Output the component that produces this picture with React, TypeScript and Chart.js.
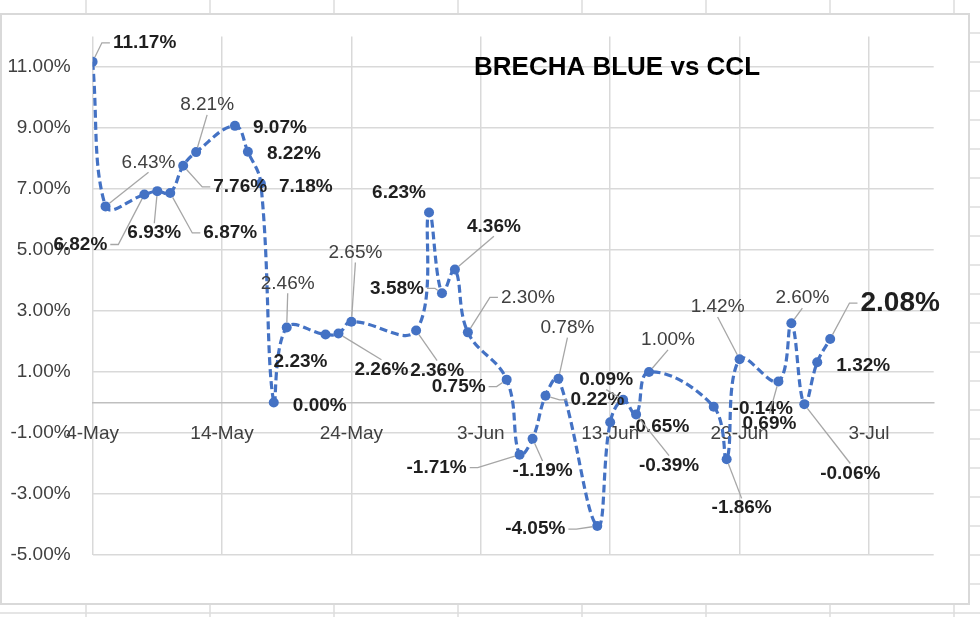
import React, { useEffect, useRef } from "react";
import { Chart, registerables } from "chart.js";

Chart.register(...registerables);

// ---------------- data ----------------
const TITLE = "BRECHA BLUE vs CCL";

const DATES = [
  "2023-05-04", "2023-05-05", "2023-05-08", "2023-05-09", "2023-05-10", "2023-05-11",
  "2023-05-12", "2023-05-15", "2023-05-16", "2023-05-17", "2023-05-18", "2023-05-19",
  "2023-05-22", "2023-05-23", "2023-05-24", "2023-05-29", "2023-05-30", "2023-05-31",
  "2023-06-01", "2023-06-02", "2023-06-05", "2023-06-06", "2023-06-07", "2023-06-08",
  "2023-06-09", "2023-06-12", "2023-06-13", "2023-06-14", "2023-06-15", "2023-06-16",
  "2023-06-21", "2023-06-22", "2023-06-23", "2023-06-26", "2023-06-27", "2023-06-28",
  "2023-06-29", "2023-06-30",
];

const BRECHA = [
  11.17, 6.43, 6.82, 6.93, 6.87, 7.76,
  8.21, 9.07, 8.22, 7.18, 0.0, 2.46,
  2.23, 2.26, 2.65, 2.36, 6.23, 3.58,
  4.36, 2.3, 0.75, -1.71, -1.19, 0.22,
  0.78, -4.05, -0.65, 0.09, -0.39, 1.0,
  -0.14, -1.86, 1.42, 0.69, 2.6, -0.06,
  1.32, 2.08,
];

const X_TICK_DATES = ["2023-05-04", "2023-05-14", "2023-05-24", "2023-06-03", "2023-06-13", "2023-06-23", "2023-07-03"];
const X_AXIS_START = "2023-05-04";
const X_AXIS_END = "2023-07-08";
const Y_TICK_VALUES = [-5, -3, -1, 1, 3, 5, 7, 9, 11];
const Y_MIN = -5;
const Y_MAX = 12;
const MONTHS = ["Jan", "Feb", "Mar", "Apr", "May", "Jun", "Jul", "Aug", "Sep", "Oct", "Nov", "Dec"];

// ---------------- label layout (pixel offsets from each point, leader anchor, weight) ----------------
const LABEL_DX = [52, 43, -64, -3, 60, 57, 11, 45, 46, 45, 46, 1, -25, 43, 4, 21, -30, -45, 39, 60, -48, -83, 10, 52, 9, -62, 49, -17, 33, 19, 49, 15, -22, -9, 11, 46, 46, 70];
const LABEL_DY = [-19, -44, 50, 42, 40, 21, -47, 2, 2, 3, 3, -44, 27, 36, -69, 40, -20, -5, -43, -35, 7, 13, 32, 4, -51, 3, 4, -20, 51, -32, 2, 49, -52, 42, -25, 69, 4, -36];
const LABEL_ANCHOR = ["l", "b", "r", "t", "l", "l", "b", "-", "-", "-", "-", "b", "-", "t", "b", "t", "-", "r", "b", "l", "r", "r", "t", "l", "b", "r", "-", "b", "t", "b", "-", "t", "b", "t", "b", "t", "-", "l"];
const LABEL_BOLD = [1, 0, 1, 1, 1, 1, 0, 1, 1, 1, 1, 0, 1, 1, 0, 1, 1, 1, 1, 0, 1, 1, 1, 1, 0, 1, 1, 1, 1, 0, 1, 1, 0, 1, 0, 1, 1, 1];

const FONT = '"Liberation Sans", Arial, sans-serif';
const BLUE = "#4472C4";
const DAY = 86400000;

const toDay = (iso: string) => (Date.parse(iso + "T00:00:00Z") - Date.parse(X_AXIS_START + "T00:00:00Z")) / DAY;
const fmtDay = (d: number) => {
  const dt = new Date(Date.parse(X_AXIS_START + "T00:00:00Z") + d * DAY);
  return `${dt.getUTCDate()}-${MONTHS[dt.getUTCMonth()]}`;
};

const sheetPlugin = {
  id: "sheet",
  beforeDraw(chart: any) {
    const { ctx, width, height } = chart;
    ctx.save();
    ctx.fillStyle = "#ffffff";
    ctx.fillRect(0, 0, width, height);
    ctx.strokeStyle = "#dcdcdc";
    ctx.lineWidth = 1.5;
    for (let x = 86; x < width; x += 124) {
      ctx.beginPath();
      ctx.moveTo(x, 0);
      ctx.lineTo(x, height);
      ctx.stroke();
    }
    for (let y = 33; y < height; y += 29) {
      ctx.beginPath();
      ctx.moveTo(0, y);
      ctx.lineTo(width, y);
      ctx.stroke();
    }
    ctx.fillStyle = "#ffffff";
    ctx.fillRect(1, 14, 968, 590);
    ctx.strokeStyle = "#d9d9d9";
    ctx.lineWidth = 2;
    ctx.strokeRect(1, 14, 968, 590);
    ctx.restore();
  },
};

const labelPlugin = {
  id: "pointLabels",
  afterDatasetsDraw(chart: any) {
    const ctx = chart.ctx;
    const meta = chart.getDatasetMeta(0);
    ctx.save();
    // title
    ctx.font = `bold 26px ${FONT}`;
    ctx.fillStyle = "#000000";
    ctx.textAlign = "center";
    ctx.textBaseline = "middle";
    ctx.fillText(TITLE, 617, 68);

    meta.data.forEach((pt: any, i: number) => {
      const v = BRECHA[i];
      const text = v.toFixed(2) + "%";
      const big = i === BRECHA.length - 1;
      const bold = LABEL_BOLD[i] === 1;
      const size = big ? 28 : 19;
      ctx.font = `${bold ? "bold " : ""}${size}px ${FONT}`;
      const w = ctx.measureText(text).width;
      const cx = pt.x + LABEL_DX[i];
      const cy = pt.y + LABEL_DY[i];
      const halfW = w / 2 + 3;
      const halfH = size * 0.36 + 3;
      const a = LABEL_ANCHOR[i];
      let path: number[][] = [];
      if (a === "l") path = [[cx - halfW - 8, cy], [cx - halfW, cy]];
      else if (a === "r") path = [[cx + halfW + 8, cy], [cx + halfW, cy]];
      else if (a === "t") path = [[cx, cy - halfH]];
      else if (a === "b") path = [[cx, cy + halfH]];
      if (path.length) {
        const [fx, fy] = path[0];
        const dist = Math.hypot(fx - pt.x, fy - pt.y) || 1;
        const sx = pt.x + ((fx - pt.x) / dist) * 5;
        const sy = pt.y + ((fy - pt.y) / dist) * 5;
        ctx.strokeStyle = "#a6a6a6";
        ctx.lineWidth = 1.3;
        ctx.setLineDash([]);
        ctx.beginPath();
        ctx.moveTo(sx, sy);
        path.forEach((p) => ctx.lineTo(p[0], p[1]));
        ctx.stroke();
      }
      ctx.fillStyle = bold ? "#1f1f1f" : "#404040";
      ctx.textAlign = "center";
      ctx.textBaseline = "middle";
      ctx.fillText(text, cx, cy);
    });
    ctx.restore();
  },
};

export default function App() {
  const ref = useRef<HTMLCanvasElement | null>(null);

  useEffect(() => {
    if (!ref.current) return;
    const points = DATES.map((d, i) => ({ x: toDay(d), y: BRECHA[i] }));
    const chart = new Chart(ref.current, {
      type: "line",
      data: {
        datasets: [
          {
            label: "Brecha",
            data: points,
            borderColor: BLUE,
            backgroundColor: BLUE,
            borderWidth: 3.2,
            borderDash: [8, 4],
            tension: 0.4,
            pointRadius: 5,
            pointBackgroundColor: BLUE,
            pointBorderWidth: 0,
            fill: false,
          },
        ],
      },
      options: {
        responsive: false,
        animation: false,
        events: [],
        layout: { padding: { left: 0, top: 36.5, right: 46.3, bottom: 62 } },
        plugins: {
          legend: { display: false },
          title: { display: false },
          tooltip: { enabled: false },
        },
        scales: {
          x: {
            type: "linear",
            min: 0,
            max: toDay(X_AXIS_END),
            position: { y: 0 } as any,
            afterBuildTicks: (s: any) => {
              s.ticks = X_TICK_DATES.map((d) => ({ value: toDay(d) }));
            },
            grid: { color: "#d9d9d9", lineWidth: 1.5, drawTicks: false },
            border: { display: true, color: "#bfbfbf", width: 1.5 },
            ticks: {
              callback: (v: any) => fmtDay(Number(v)),
              padding: 20,
              autoSkip: false,
              maxRotation: 0,
              color: "#404040",
              font: { family: FONT, size: 19 },
            },
          },
          y: {
            type: "linear",
            min: Y_MIN,
            max: Y_MAX,
            afterBuildTicks: (s: any) => {
              s.ticks = Y_TICK_VALUES.map((v) => ({ value: v }));
            },
            afterFit: (s: any) => {
              s.width = 92.6;
            },
            grid: { color: "#d9d9d9", lineWidth: 1.5, drawTicks: false },
            border: { display: false },
            ticks: {
              callback: (v: any) => Number(v).toFixed(2) + "%",
              padding: 22,
              color: "#404040",
              font: { family: FONT, size: 19 },
            },
          },
        },
      },
      plugins: [sheetPlugin, labelPlugin],
    });
    return () => chart.destroy();
  }, []);

  return (
    <div style={{ position: "fixed", left: 0, top: 0, width: 980, height: 617 }}>
      <canvas ref={ref} width={980} height={617} style={{ display: "block" }} />
    </div>
  );
}
